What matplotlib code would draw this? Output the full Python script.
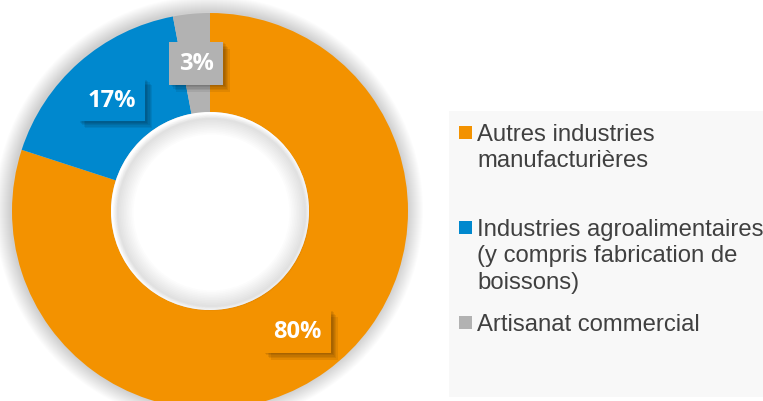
import matplotlib
matplotlib.use("Agg")
import matplotlib.pyplot as plt
import matplotlib.patheffects as pe
from matplotlib.patches import Rectangle, Circle
import numpy as np

categories = ["Autres industries\nmanufacturières",
              "Industries agroalimentaires\n(y compris fabrication de\nboissons)",
              "Artisanat commercial"]
values = [80, 17, 3]
pct_labels = ["80%", "17%", "3%"]
colors = ["#F39200", "#0088CE", "#B2B2B2"]

W, H = 763, 402
fig = plt.figure(figsize=(W / 100, H / 100), dpi=100)
ax = fig.add_axes([0, 0, 1, 1])

cx, cy, R = 210, 190, 198
ring = 0.5
r_in = R * ring

# soft shadow around donut
for k in range(16, 0, -1):
    ax.add_patch(Circle((cx - 1, cy + 1), R + k, color="black", alpha=0.012, lw=0, zorder=0))

wedges, _ = ax.pie(values, colors=colors, startangle=90, counterclock=False,
                   radius=R, center=(cx, cy),
                   wedgeprops=dict(width=R * ring, linewidth=0))
for w in wedges:
    w.set_zorder(2)

# hole: white with soft inner shadow
ax.add_patch(Circle((cx, cy), r_in, color="white", lw=0, zorder=2.5))
for k in range(1, 14):
    ax.add_patch(Circle((cx + 1.5, cy - 1.5), r_in - k, facecolor="none", edgecolor="black",
                        alpha=0.011, lw=k * 0.9, zorder=3))

ax.set_xlim(0, W)
ax.set_ylim(0, H)
ax.set_aspect("auto")
ax.axis("off")

# data labels
rmid = R * (1 - ring / 2)
for w, lab, col in zip(wedges, pct_labels, colors):
    ang = np.deg2rad((w.theta1 + w.theta2) / 2)
    x = cx + rmid * np.cos(ang)
    y = cy + rmid * np.sin(ang)
    t = ax.text(x, y, lab, ha="center", va="center", color="white",
                fontsize=17, fontweight="bold", family="Open Sans", zorder=5,
                bbox=dict(boxstyle="square,pad=0.4", facecolor=col, edgecolor="none"))
    effects = [pe.SimplePatchShadow(offset=(o, -o), shadow_rgbFace="black", alpha=0.07)
               for o in (5, 4, 3, 2, 1.2)]
    t.get_bbox_patch().set_path_effects(effects + [pe.Normal()])

# legend panel
ax.add_patch(Rectangle((449, H - 398), W - 449, 398 - 112, facecolor="#F8F8F8",
                       edgecolor="none", zorder=1))
entry_y = [133, 228, 323]
for lab, col, yy in zip(categories, colors, entry_y):
    ax.add_patch(Rectangle((459, H - yy - 6.5), 13, 13, facecolor=col, edgecolor="none", zorder=4))
    ax.text(477, H - yy + 9, lab, ha="left", va="top", fontsize=17.2, color="#404040",
            family="Liberation Sans", linespacing=1.25, zorder=4)

fig.savefig("out.png", dpi=100)
